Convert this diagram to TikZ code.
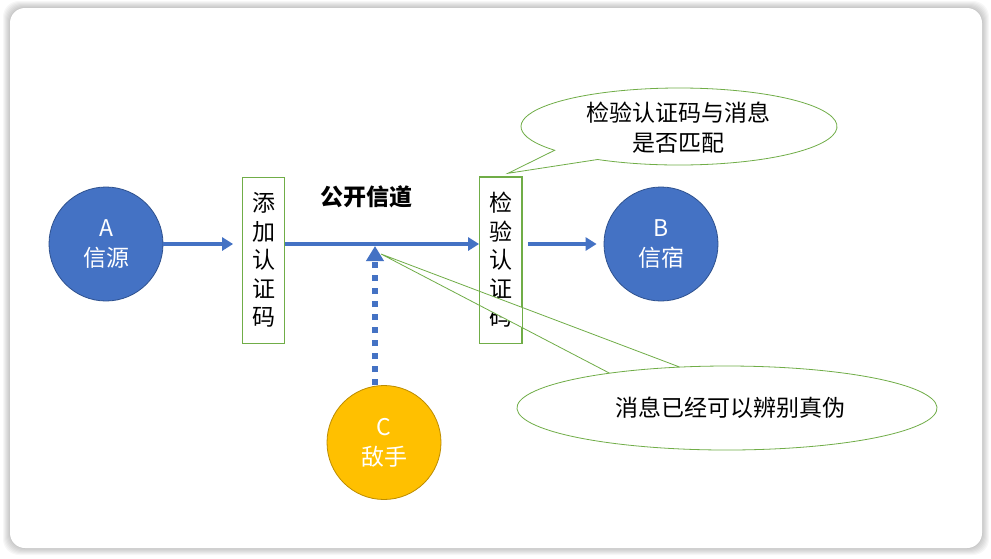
\documentclass[tikz,border=0pt]{standalone}
\usepackage{fontspec}
\setmainfont{Noto Sans CJK SC}
\usetikzlibrary{arrows.meta,calc}
\definecolor{bluef}{HTML}{4472C4}
\definecolor{blued}{HTML}{2F528F}
\definecolor{greenl}{HTML}{70AD47}
\definecolor{yellowf}{HTML}{FFC000}
\definecolor{yellowd}{HTML}{BC8C00}
\tikzset{
 circ/.style={circle, minimum size=114pt, inner sep=0pt, text=white, align=center, font=\fontsize{23}{30}\selectfont, line width=0.8pt},
 vbox/.style={draw=greenl, line width=0.8pt, minimum height=166pt, inner sep=0pt, align=center, font=\fontsize{23}{28.5}\selectfont},
 barrow/.style={draw=bluef, line width=3.5pt, -{Triangle[length=11pt,width=13pt]}},
 darrow/.style={draw=bluef, line width=6.5pt, dash pattern=on 6.5pt off 6.5pt, -{Triangle[length=15pt,width=17pt]}},
 bubble/.style={draw=greenl, fill=white, line width=0.8pt, line join=miter},
 btext/.style={inner sep=0pt, align=center, font=\fontsize{23}{30}\selectfont},
}
\begin{document}
\begin{tikzpicture}[x=1pt,y=-1pt]
\useasboundingbox (0,0) rectangle (991,558);
\fill[white] (0,0) rectangle (991,558);
\foreach \i in {1,...,7} { \fill[black, opacity=0.03, rounded corners=16pt] ({10-\i},{8-\i}) rectangle ({982+\i},{548+\i}); }
\fill[white, rounded corners=15pt] (10,8) rectangle (982,548);

\node[circ, fill=bluef, draw=blued] (A) at (106,244) {A\\信源};
\node[circ, fill=bluef, draw=blued] (B) at (661,244) {B\\信宿};
\node[circ, fill=yellowf, draw=yellowd] (C) at (384,442.5) {C\\敌手};
\node[vbox, minimum width=42pt] (M1) at (263.5,260) {添\\加\\认\\证\\码};
\node[vbox, minimum width=42pt] (M2) at (500.5,260) {检\\验\\认\\证\\码};
\node[font=\bfseries\fontsize{23}{28}\selectfont] (T) at (366,197) {公开信道};

\coordinate (h) at (375,246);
\draw[barrow] (A.east) -- ([xshift=-9pt]A.east -| M1.west);
\draw[barrow] (A.east -| M1.east) -- (A.east -| M2.west);
\draw[barrow] ([xshift=6pt]A.east -| M2.east) -- ([xshift=-7pt]A.east -| B.west);
\draw[darrow] (h |- C.north) -- (h);

% callout 1
\coordinate (p1) at (508,173.3);
\coordinate (k1c) at (679,126.5);
\path[bubble] (p1) -- ($(k1c)+({158*cos(121)},{38.5*sin(121)})$)
  arc[start angle=121, end angle=-218.1, x radius=158, y radius=38.5] -- cycle;
\node[btext] (K1) at (678,128) {检验认证码与消息\\是否匹配};

% callout 2
\coordinate (p2) at (381,254);
\coordinate (k2c) at (727,408);
\path[bubble] (p2) -- ($(k2c)+({210*cos(257)},{42*sin(257)})$)
  arc[start angle=257, end angle=-124, x radius=210, y radius=42] -- cycle;
\node[btext] (K2) at (730,408) {消息已经可以辨别真伪};

\draw[greenl, line width=0.8pt] (M2.south west) rectangle (M2.north east);
\end{tikzpicture}
\end{document}
